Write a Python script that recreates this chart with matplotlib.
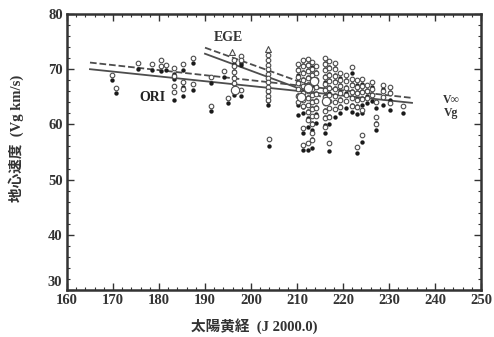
import numpy as np
import matplotlib.pyplot as plt
from matplotlib.ticker import MultipleLocator, FuncFormatter

plt.rcParams['font.family'] = ['Liberation Serif', 'Noto Sans CJK JP']

# --- data ---
# each column: solar longitude, V-infinity values (open), Vg values (filled)
col_lon = [169.8, 170.7, 175.4, 178.5, 180.4, 181.6, 183.2, 185.2, 187.4,
           191.3, 194.1, 195.0, 196.2, 197.8, 203.7, 204.0,
           210.3, 211.3, 212.3, 213.3, 214.2, 216.1, 217.0, 218.2,
           219.3, 220.6, 221.9, 223.0, 224.1, 225.3, 226.2, 227.2,
           228.7, 230.2, 233.0]
col_vinf = [
    [69.0], [66.6], [71.1], [70.9], [71.7, 70.6], [70.8],
    [70.2, 68.8, 66.9, 65.8], [70.9, 67.6, 66.5], [72.1, 67.4],
    [68.5, 63.4], [69.6], [64.8],
    [71.6, 70.5, 69.4, 68.4, 67.5, 66.3], [72.4, 71.7, 66.3],
    [72.6, 71.7, 70.8, 70.0, 69.2, 68.4, 67.6, 66.8, 66.0, 65.2, 64.5], [57.4],
    [71.0, 69.8, 68.6, 67.5, 66.4, 65.2, 64.0],
    [71.6, 70.5, 69.3, 68.1, 66.9, 65.7, 64.5, 63.3, 59.4, 56.3],
    [71.9, 70.8, 69.6, 68.4, 67.2, 66.0, 64.8, 63.6, 62.3, 60.8, 56.6],
    [71.3, 70.1, 68.9, 67.7, 66.5, 65.3, 64.0, 62.8, 61.5, 60.1, 58.5, 57.2],
    [70.5, 69.3, 68.0, 66.8, 65.5, 64.2, 62.9, 61.5],
    [72.1, 71.0, 69.8, 68.6, 67.4, 66.2, 65.0, 63.8, 62.5, 61.1, 59.6],
    [71.4, 70.2, 69.0, 67.8, 66.6, 65.4, 64.2, 62.9, 61.4, 56.7],
    [71.2, 70.0, 68.8, 67.6, 66.4, 65.2, 64.0, 62.7],
    [69.3, 68.1, 66.9, 65.7, 64.5, 63.2],
    [69.0, 67.8, 66.6, 65.4, 64.2],
    [70.4, 68.3, 67.1, 65.9, 64.7, 63.4],
    [68.0, 66.8, 65.6, 64.4, 63.1, 55.9],
    [68.3, 67.0, 65.8, 64.6, 62.6, 58.1],
    [67.2, 66.0, 64.8],
    [67.7, 66.5, 65.3],
    [64.0, 61.3, 60.0],
    [67.1, 66.0, 64.9],
    [66.8, 65.6, 63.9],
    [63.3],
]
col_vg = [
    [68.0], [65.6], [70.0], [69.9], [70.6, 69.7], [69.8],
    [69.1, 68.3, 65.9, 64.4], [69.9, 66.7, 65.2], [71.1, 66.3],
    [67.5, 62.5], [68.6], [63.9],
    [70.9, 69.6, 68.5, 67.4, 66.6, 65.3], [71.2, 70.8, 65.1],
    [71.6, 70.7, 69.9, 69.1, 68.3, 67.6, 66.6, 65.8, 65.0, 64.3, 63.5], [56.0],
    [70.1, 68.9, 67.6, 66.5, 65.3, 63.5, 61.7],
    [70.7, 69.4, 68.2, 67.0, 65.8, 64.6, 63.2, 62.0, 58.4, 55.4],
    [71.0, 69.8, 68.5, 67.3, 66.1, 64.9, 63.6, 62.5, 61.1, 59.5, 55.4],
    [70.4, 69.1, 67.9, 66.7, 65.4, 64.2, 62.9, 61.6, 60.3, 59.0, 57.4, 55.7],
    [69.5, 68.3, 67.0, 65.7, 64.4, 63.1, 61.8, 60.2],
    [71.2, 70.0, 68.8, 67.6, 66.4, 65.1, 63.9, 62.6, 61.3, 59.8, 58.5],
    [70.4, 69.2, 68.0, 66.8, 65.6, 64.3, 63.0, 61.6, 60.0, 55.2],
    [70.2, 69.0, 67.8, 66.6, 65.3, 64.1, 62.8, 61.3],
    [68.4, 67.1, 65.9, 64.6, 63.4, 62.0],
    [68.1, 66.8, 65.6, 64.3, 63.0],
    [69.3, 67.4, 66.1, 64.9, 63.6, 62.2],
    [67.1, 65.8, 64.6, 63.3, 61.8, 54.8],
    [67.3, 66.1, 64.8, 63.5, 62.0, 56.8],
    [66.3, 65.1, 63.9],
    [66.8, 65.5, 64.3],
    [62.9, 60.3, 59.0],
    [66.4, 65.0, 63.5],
    [65.8, 64.5, 62.6],
    [62.0],
]

# larger open circles and open triangles
big_lon = [196.6, 210.9, 212.3, 216.3, 213.6]
big_v = [66.3, 65.0, 66.6, 64.2, 67.8]
tri_lon = [195.9, 203.7]
tri_v = [73.1, 73.7]

# regression lines (ORI and EGE), V-infinity dashed, Vg solid
ori_x = [165, 235]
ori_vinf = [71.2, 64.8]
ori_vg = [70.0, 63.9]
ege_x = [190, 215]
ege_vinf = [73.9, 66.4]
ege_vg = [72.8, 65.1]

fig = plt.figure(figsize=(4.94, 3.37), dpi=100)
ax = fig.add_axes([0.1356, 0.1395, 0.8381, 0.819])

gray = '#4d4d4d'
for x, vi, vg in zip(col_lon, col_vinf, col_vg):
    ax.scatter(np.full(len(vg), x), vg, s=10, color='#1a1a1a', zorder=3, linewidths=0)
    ax.scatter(np.full(len(vi), x), vi, s=11, facecolors='white',
               edgecolors=gray, linewidths=0.8, zorder=4)
ax.scatter(big_lon, big_v, s=36, facecolors='white', edgecolors=gray,
           linewidths=0.8, zorder=4)
ax.scatter(tri_lon, tri_v, s=18, marker='^', facecolors='white',
           edgecolors=gray, linewidths=0.8, zorder=4)

ax.plot(ori_x, ori_vinf, '--', color=gray, lw=1.3, zorder=2)
ax.plot(ori_x, ori_vg, '-', color=gray, lw=1.3, zorder=2)
ax.plot(ege_x, ege_vinf, '--', color=gray, lw=1.3, zorder=2)
ax.plot(ege_x, ege_vg, '-', color=gray, lw=1.3, zorder=2)

ax.text(195, 75.7, 'EGE', fontsize=10, fontweight='bold', color='#333', ha='center', va='center')
ax.text(178.5, 64.8, 'ORI', fontsize=10, fontweight='bold', color='#222', ha='center', va='center')
ax.text(243.5, 64.5, 'V∞', fontsize=8.5, fontweight='bold', color='#333', ha='center', va='center')
ax.text(243.5, 62.0, 'Vg', fontsize=8.5, fontweight='bold', color='#333', ha='center', va='center')

ax.set_xlim(160, 250)
ax.set_ylim(30, 80)
ax.xaxis.set_major_locator(MultipleLocator(10))
ax.xaxis.set_minor_locator(MultipleLocator(2))
ax.yaxis.set_major_locator(MultipleLocator(10))
ax.yaxis.set_minor_locator(MultipleLocator(2))
# the bottom "30" is drawn by hand a little higher so it clears "160"
ax.yaxis.set_major_formatter(FuncFormatter(lambda v, p: '' if v == 30 else f'{v:.0f}'))
ax.tick_params(which='both', direction='in', top=True, right=True, color='#333')
ax.tick_params(which='major', length=5, width=1.0, labelsize=10.5, pad=3)
ax.tick_params(which='minor', length=2.5, width=0.8)
for lab in ax.get_xticklabels() + ax.get_yticklabels():
    lab.set_fontweight('bold')
    lab.set_color('#333')
for sp in ax.spines.values():
    sp.set_linewidth(1.8)
    sp.set_color('#333')

ax.text(-0.012, 31.4, '30', transform=ax.get_yaxis_transform(), fontsize=10.5,
        fontweight='bold', color='#333', ha='right', va='center')

fig.text(254 / 494, 1 - 326 / 337, '太陽黄経  (J 2000.0)', fontsize=10.5,
         fontweight='bold', color='#333', ha='center', va='center')
fig.text(16 / 494, 1 - 138 / 337, '地心速度  (Vg km/s)', fontsize=10.5,
         fontweight='bold', color='#333', ha='center', va='center', rotation=90)

fig.savefig('out.png', dpi=100)
